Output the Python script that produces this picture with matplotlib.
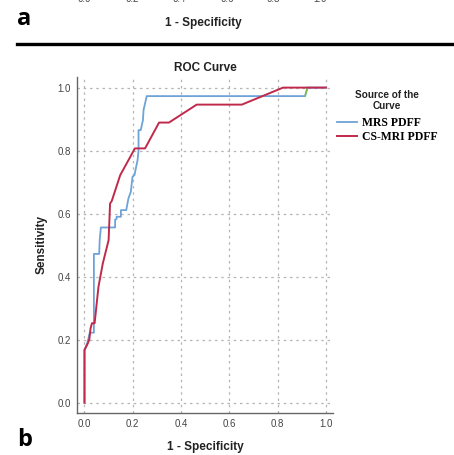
#!/usr/bin/env python3
"""ROC curve, panel b: MRS PDFF vs CS-MRI PDFF (SPSS-style)."""
import matplotlib
matplotlib.use("Agg")
import matplotlib.pyplot as plt

# MRS PDFF curve (1 - specificity, sensitivity)
mrs_fpr = [0.0, 0.0, 0.012, 0.022, 0.039, 0.039, 0.061, 0.063, 0.068, 0.127, 0.127,
           0.133, 0.133, 0.151, 0.151, 0.173, 0.182, 0.192, 0.199, 0.207, 0.220,
           0.224, 0.224, 0.233, 0.242, 0.245, 0.258, 0.914, 0.924, 1.0]
mrs_tpr = [0.0, 0.167, 0.190, 0.222, 0.222, 0.472, 0.472, 0.516, 0.556, 0.556, 0.581,
           0.583, 0.590, 0.590, 0.611, 0.611, 0.648, 0.669, 0.717, 0.722, 0.770,
           0.800, 0.865, 0.865, 0.896, 0.930, 0.973, 0.973, 1.0, 1.0]

# CS-MRI PDFF curve
cs_fpr = [0.0, 0.0, 0.012, 0.020, 0.025, 0.031, 0.042, 0.058, 0.076, 0.100, 0.106,
          0.113, 0.148, 0.209, 0.251, 0.309, 0.350, 0.465, 0.652, 0.823, 1.0]
cs_tpr = [0.0, 0.167, 0.185, 0.200, 0.235, 0.252, 0.252, 0.368, 0.442, 0.516, 0.632,
          0.640, 0.722, 0.807, 0.807, 0.889, 0.889, 0.946, 0.946, 1.0, 1.0]

# short green segment visible at the end of the MRS curve
ref_fpr = [0.914, 0.924]
ref_tpr = [0.973, 1.0]

series = ["MRS PDFF", "CS-MRI PDFF"]
ticks = [0.0, 0.2, 0.4, 0.6, 0.8, 1.0]

BLUE, RED, GREEN = "#6ea3d8", "#c0294c", "#7cbf45"

fig = plt.figure(figsize=(4.54, 4.55), dpi=100)
ax = fig.add_axes([0.1696, 0.093, 0.564, 0.738])

ax.plot(mrs_fpr, mrs_tpr, color=BLUE, lw=1.3, label=series[0], zorder=3)
ax.plot(ref_fpr, ref_tpr, color=GREEN, lw=1.1, zorder=3)
ax.plot(cs_fpr, cs_tpr, color=RED, lw=1.4, label=series[1], zorder=4)

ax.set_xlim(-0.031, 1.03)
ax.set_ylim(-0.032, 1.034)
ax.set_xticks(ticks)
ax.set_yticks(ticks)
ax.set_xticklabels([f"{t:.1f}" for t in ticks])
ax.set_yticklabels([f"{t:.1f}" for t in ticks])
ax.tick_params(length=0, labelsize=7, labelcolor="#444444", pad=4.5)
for lab in ax.get_xticklabels() + ax.get_yticklabels():
    lab.set_family("Liberation Sans")
ax.grid(True, ls=(0, (2, 3)), color="#b5b5b5", lw=0.9)
ax.set_axisbelow(True)
for s in ("top", "right"):
    ax.spines[s].set_visible(False)
for s in ("left", "bottom"):
    ax.spines[s].set_color("#666666")
    ax.spines[s].set_linewidth(1.0)

ax.set_title("ROC Curve", fontsize=8.5, fontweight="bold", family="Liberation Sans",
             color="#222222", pad=4)
ax.set_xlabel("1 - Specificity", fontsize=8.5, fontweight="bold",
              family="Liberation Sans", color="#222222", labelpad=9)
ax.set_ylabel("Sensitivity", fontsize=8.5, fontweight="bold",
              family="Liberation Sans", color="#222222", labelpad=7)

leg = fig.legend(loc="upper left", bbox_to_anchor=(332 / 454, 1 - 85 / 455),
                 frameon=False, title="Source of the\nCurve",
                 prop={"family": "Liberation Serif", "weight": "bold", "size": 8.5},
                 handlelength=1.7, handletextpad=0.45, labelspacing=0.15,
                 borderaxespad=0)
leg.get_title().set_fontproperties({"family": "Liberation Sans", "weight": "bold",
                                    "size": 7.2})
leg.get_title().set_multialignment("center")
leg.get_title().set_color("#222222")
leg._legend_box.sep = 4

# remnants of panel a at the top of the image
for t, xp in zip(ticks, [84, 132, 179, 227, 273, 320]):
    fig.text(xp / 454, 1 - 2.5 / 455, f"{t:.1f}", ha="center", va="baseline",
             fontsize=7, color="#444444", family="Liberation Sans")
fig.text(203 / 454, 1 - 23 / 455, "1 - Specificity", ha="center", va="center",
         fontsize=8.5, fontweight="bold", family="Liberation Sans", color="#222222")
fig.text(17 / 454, 1 - 19 / 455, "a", ha="left", va="center", fontsize=17,
         fontweight="bold", family="Open Sans")
fig.add_artist(plt.Line2D([17 / 454, 1.0], [1 - 44 / 455, 1 - 44 / 455],
                          color="black", lw=2.4, transform=fig.transFigure))
fig.text(17 / 454, 1 - 440 / 455, "b", ha="left", va="center", fontsize=17,
         fontweight="bold", family="Open Sans")

fig.savefig("out.png", dpi=100)
